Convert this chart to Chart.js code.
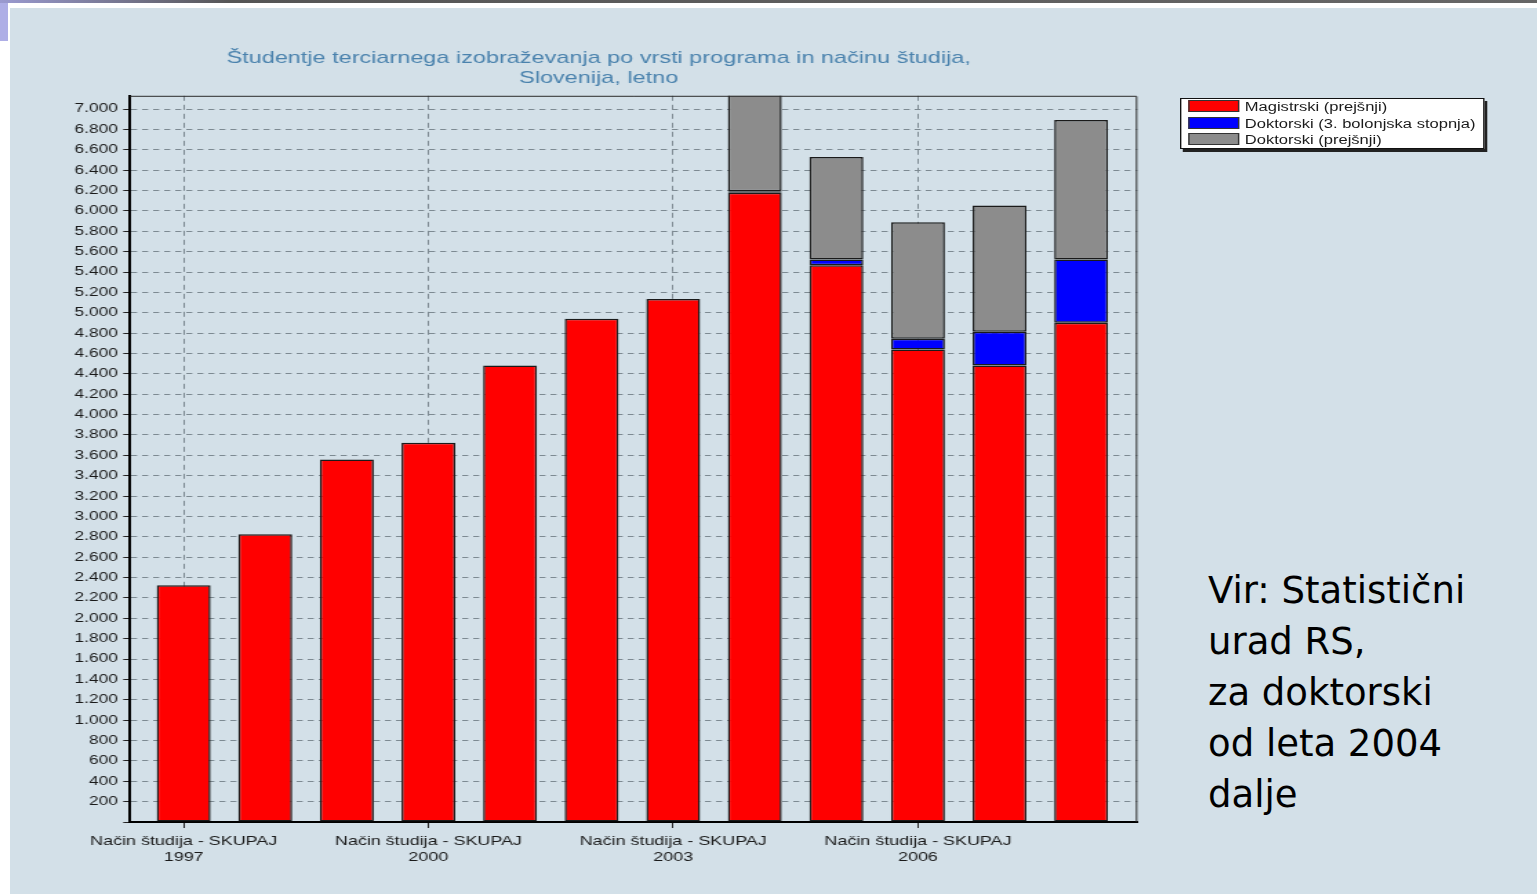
<!DOCTYPE html>
<html>
<head>
<meta charset="utf-8">
<script src="https://cdn.jsdelivr.net/npm/chart.js@4.4.1/dist/chart.umd.min.js"></script>
<style>
  html, body { margin: 0; padding: 0; background: #fff; width: 1537px; height: 894px; overflow: hidden; }
  #topbar { position: absolute; left: 0; top: 0; width: 1537px; height: 3px; background: linear-gradient(to right, #9a9ad0, #555 15%, #666); }
  #corner { position: absolute; left: 0; top: 3px; width: 8px; height: 38px; background: #aeaee6; }
  #bg { position: absolute; left: 10px; top: 8px; width: 1527px; height: 886px; background: #d3e0e8; }
  /* the chart in the slide is a picture stretched sideways, so draw narrow and stretch */
  #wrap { position: absolute; left: 0; top: 0; height: 894px; transform-origin: 0 0; }
  #legend { position: absolute; left: 1180px; top: 98px; height: 49px; background: #fff; transform-origin: 0 0;
            border: 1px solid #111; box-shadow: 2px 3px 0 #222; font: 12px "Liberation Sans", Arial, sans-serif; color: #1a1a1a; }
  .item { position: absolute; left: 5px; height: 17px; line-height: 17px; white-space: nowrap; }
  .sw { display: inline-block; width: 35px; height: 10px; border: 1px solid #333; vertical-align: -1px; margin-right: 4px; }
  #note { position: absolute; left: 1208px; top: 565px; font: 37px "DejaVu Sans", Tahoma, sans-serif; line-height: 51px; color: #000; }
</style>
</head>
<body>
<div id="bg"></div>
<div id="topbar"></div>
<div id="corner"></div>
<div id="wrap"><canvas id="chart"></canvas></div>
<div id="legend"></div>
<div id="note">Vir: Statistični<br>urad RS,<br>za doktorski<br>od leta 2004<br>dalje</div>
<script>
'use strict';
let years = [1997, 1998, 1999, 2000, 2001, 2002, 2003, 2004, 2005, 2006, 2007, 2008];
let labelYears = [1997, 2000, 2003, 2006];
let magistrski = [2324, 2825, 3560, 3724, 4482, 4940, 5136, 6179, 5466, 4639, 4482, 4901];
let doktorskiBol = [0, 0, 0, 0, 0, 0, 0, 15, 56, 105, 331, 621];
let doktorskiPrej = [0, 0, 0, 0, 0, 0, 0, 1150, 1007, 1144, 1239, 1370];
let seriesNames = ['Magistrski (prejšnji)', 'Doktorski (3. bolonjska stopnja)', 'Doktorski (prejšnji)'];
let seriesColors = ['#ff0000', '#0000ff', '#8c8c8c'];
let titleLines = ['Študentje terciarnega izobraževanja po vrsti programa in načinu študija,', 'Slovenija, letno'];

let stretch = 1.378; // sideways stretch of the original picture

let wrap = document.getElementById('wrap');
wrap.style.width = (1200 / stretch) + 'px';
wrap.style.transform = 'scaleX(' + stretch + ')';

function toPoints(arr) {
  let out = [];
  for (let i = 0; i < years.length; i++) {
    out.push({ x: years[i], y: arr[i] });
  }
  return out;
}

// legend as html, same order as the picture
let legend = document.getElementById('legend');
legend.style.width = (302 / stretch) + 'px';
legend.style.transform = 'scaleX(' + stretch + ')';
for (let i = 0; i < seriesNames.length; i++) {
  let d = document.createElement('div');
  d.className = 'item';
  d.style.top = (i * 16.5) + 'px';
  d.innerHTML = '<span class="sw" style="background:' + seriesColors[i] + '"></span>' + seriesNames[i];
  legend.appendChild(d);
}

function dotted(v) {
  return String(v).replace(/\B(?=(\d{3})+(?!\d))/g, '.');
}

// thin frame on top and right of the plot
let frame = {
  id: 'frame',
  afterDraw(chart) {
    let a = chart.chartArea;
    let ctx = chart.ctx;
    ctx.save();
    ctx.strokeStyle = '#2a2a2a';
    ctx.lineWidth = 1;
    ctx.beginPath();
    ctx.moveTo(a.left, a.top + 0.5);
    ctx.lineTo(a.right - 0.5, a.top + 0.5);
    ctx.lineTo(a.right - 0.5, a.bottom);
    ctx.stroke();
    ctx.restore();
  }
};

let allData = [magistrski, doktorskiBol, doktorskiPrej];
let datasets = [];
for (let i = 0; i < allData.length; i++) {
  datasets.push({
    label: seriesNames[i],
    data: toPoints(allData[i]),
    backgroundColor: seriesColors[i],
    borderColor: '#1a1a1a',
    borderWidth: 1.5,
    borderSkipped: false,
    barPercentage: 0.66,
    categoryPercentage: 1
  });
}

let context = document.getElementById('chart').getContext('2d');
let chart = new Chart(context, {
  type: 'bar',
  data: { datasets: datasets },
  plugins: [frame],
  options: {
    responsive: true,
    maintainAspectRatio: false,
    animation: false,
    layout: { padding: { left: 60 / stretch, right: 64 / stretch, top: 0, bottom: 30 } },
    plugins: {
      legend: { display: false },
      tooltip: { enabled: false },
      title: {
        display: true,
        text: titleLines,
        color: '#4a82ad',
        font: { family: 'Liberation Sans', size: 17, weight: 'normal', lineHeight: 1.2 },
        padding: { top: 48, bottom: 7 }
      }
    },
    scales: {
      x: {
        type: 'linear',
        stacked: true,
        offset: false,
        min: 1996.344,
        max: 2008.688,
        afterBuildTicks(scale) {
          scale.ticks = labelYears.map(v => ({ value: v }));
        },
        afterFit(scale) { scale.height = 42; },
        ticks: {
          autoSkip: false,
          maxRotation: 0,
          padding: 6,
          color: '#1a1a1a',
          font: { family: 'Liberation Sans', size: 13 },
          callback: v => ['Način študija - SKUPAJ', String(v)]
        },
        grid: { offset: false, color: '#7d8a92', lineWidth: 1, tickLength: 6, tickColor: '#222' },
        border: { display: true, color: '#000', width: 2, dash: [5, 4] }
      },
      y: {
        stacked: true,
        min: 0,
        max: 7130,
        afterFit(scale) { scale.width = 70 / stretch; },
        ticks: {
          stepSize: 200,
          includeBounds: false,
          padding: 4,
          color: '#1a1a1a',
          font: { family: 'Liberation Sans', size: 12.5 },
          callback: v => v === 0 ? '' : dotted(v)
        },
        grid: { color: '#7d8a92', lineWidth: 1, tickLength: 5, tickColor: '#222' },
        border: { display: true, color: '#000', width: 2, dash: [4.4, 3.6] }
      }
    }
  }
});
</script>
</body>
</html>
